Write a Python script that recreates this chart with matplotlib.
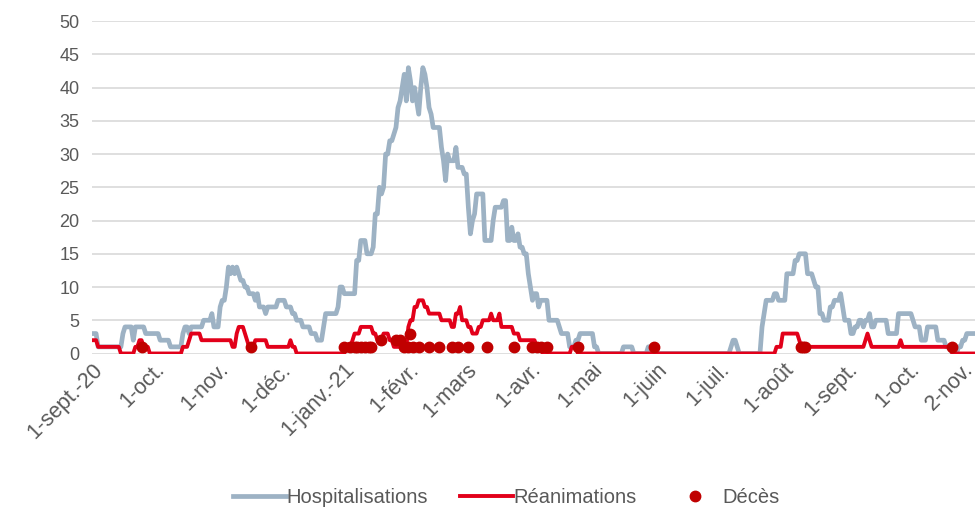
import matplotlib
matplotlib.use('Agg')
import matplotlib.pyplot as plt
import matplotlib.transforms as mtransforms
import numpy as np
import pandas as pd

# daily series, stored as runs of (value, number of days), starting 1 Sept 2020
hosp_runs = [
    (3, 3), (1, 12), (3, 1), (4, 4), (2, 1), (4, 5), (3, 7), (2, 5), (1, 6),
    (3, 1), (4, 2), (3, 1), (4, 6), (5, 4), (6, 1), (4, 3), (7, 1), (8, 2),
    (10, 1), (13, 1), (12, 1), (13, 1), (12, 1), (13, 1), (12, 1), (11, 2),
    (10, 2), (9, 3), (8, 1), (9, 1), (7, 3), (6, 1), (7, 5), (8, 4), (7, 3),
    (6, 2), (5, 3), (4, 4), (3, 3), (2, 3), (4, 1), (6, 6), (7, 1), (10, 2),
    (9, 6), (14, 2), (17, 3), (15, 3), (16, 1), (21, 2), (25, 1), (24, 1),
    (25, 1), (30, 2), (32, 2), (33, 1), (34, 1), (37, 1), (38, 1), (40, 1),
    (42, 1), (38, 1), (43, 1), (41, 1), (38, 1), (40, 1), (38, 1), (36, 1),
    (40, 1), (43, 1), (42, 1), (40, 1), (37, 1), (36, 1), (34, 4), (31, 1),
    (29, 1), (26, 1), (30, 1), (29, 3), (31, 1), (28, 3), (27, 2), (22, 1),
    (18, 1), (20, 1), (21, 1), (24, 4), (17, 4), (20, 1), (22, 4), (23, 2),
    (17, 2), (19, 1), (17, 2), (18, 1), (16, 2), (15, 2), (12, 1), (10, 1),
    (8, 1), (9, 2), (7, 1), (8, 4), (5, 5), (4, 1), (3, 4), (1, 3), (2, 2),
    (3, 7), (1, 2), (0, 12), (1, 5), (0, 7), (1, 2), (0, 38), (1, 1), (2, 2),
    (1, 1), (0, 11), (4, 1), (6, 1), (8, 4), (9, 2), (8, 4), (12, 4), (14, 2),
    (15, 4), (12, 3), (11, 1), (10, 2), (6, 2), (5, 3), (7, 2), (8, 3), (9, 1),
    (7, 1), (5, 3), (3, 2), (4, 2), (5, 2), (4, 1), (5, 2), (6, 1), (4, 2),
    (5, 6), (3, 5), (6, 7), (5, 1), (4, 3), (2, 3), (4, 5), (2, 4), (1, 3),
    (0, 3), (1, 2), (2, 2), (3, 5),
]

rea_runs = [
    (2, 3), (1, 11), (0, 7), (1, 2), (2, 2), (1, 3), (0, 16), (1, 3), (2, 1),
    (3, 5), (2, 15), (1, 2), (3, 1), (4, 3), (3, 1), (2, 1), (1, 3), (2, 6),
    (1, 11), (2, 1), (1, 2), (0, 24), (1, 3), (2, 1), (3, 3), (4, 6), (3, 2),
    (2, 3), (3, 3), (2, 2), (1, 7), (4, 1), (5, 2), (7, 2), (8, 3), (7, 2),
    (6, 6), (5, 5), (4, 2), (6, 2), (7, 1), (5, 3), (4, 2), (3, 3), (4, 2),
    (5, 4), (6, 1), (5, 3), (6, 1), (4, 6), (3, 3), (2, 8), (1, 3), (0, 14),
    (1, 3), (0, 96), (1, 3), (3, 8), (2, 1), (1, 31), (2, 1), (3, 1), (2, 1),
    (1, 14), (2, 1), (1, 24), (0, 12),
]

# deaths: day offset from 1 Sept 2020 and count
deces_days = [24, 77, 122, 125, 127, 128, 130, 132, 134, 135, 140, 147, 149,
              151, 153, 154, 155, 158, 163, 168, 174, 177, 182, 191, 204, 213,
              215, 217, 220, 235, 272, 343, 344, 345, 416]
deces_vals = [1, 1, 1, 1, 1, 1, 1, 1, 1, 1, 2, 2, 2,
              1, 1, 3, 1, 1, 1, 1, 1, 1, 1, 1, 1, 1,
              1, 1, 1, 1, 1, 1, 1, 1, 1]

tick_dates = ['2020-09-01', '2020-10-01', '2020-11-01', '2020-12-01',
              '2021-01-01', '2021-02-01', '2021-03-01', '2021-04-01',
              '2021-05-01', '2021-06-01', '2021-07-01', '2021-08-01',
              '2021-09-01', '2021-10-01', '2021-11-02']
tick_labels = ['1-sept.-20', '1-oct.', '1-nov.', '1-déc.', '1-janv.-21',
               '1-févr.', '1-mars', '1-avr.', '1-mai', '1-juin', '1-juil.',
               '1-août', '1-sept.', '1-oct.', '2-nov.']


def expand(runs):
    out = []
    for v, n in runs:
        out += [v] * n
    return np.array(out)


hosp = expand(hosp_runs)
rea = expand(rea_runs)
start = pd.Timestamp('2020-09-01')
dates_h = pd.date_range(start, periods=len(hosp))
dates_r = pd.date_range(start, periods=len(rea))
dates_d = start + pd.to_timedelta(deces_days, unit='D')

plt.rcParams['font.family'] = ['Liberation Sans', 'DejaVu Sans']
fig = plt.figure(figsize=(9.78, 5.09), dpi=100)
ax = fig.add_axes([0.094, 0.3055, 0.903, 0.653])

ax.plot(dates_h, hosp, color='#9db2c4', lw=3.4, label='Hospitalisations',
        solid_joinstyle='round', zorder=3)
ax.plot(dates_r, rea, color='#e2001a', lw=2.8, label='Réanimations',
        solid_joinstyle='round', zorder=4)
ax.plot(dates_d, deces_vals, 'o', color='#c00000', ms=7.5, label='Décès',
        linestyle='none', zorder=5)

ax.set_ylim(0, 50)
ax.set_yticks(range(0, 51, 5))
ax.set_xlim(start, pd.Timestamp('2021-11-02'))
ax.set_xticks(pd.to_datetime(tick_dates))
ax.set_xticklabels(tick_labels, rotation=45, ha='right', rotation_mode='anchor')
ax.tick_params(axis='both', length=0, colors='#595959')
ax.tick_params(axis='x', pad=4, labelsize=15.5)
ax.tick_params(axis='y', pad=9, labelsize=13)
ax.grid(axis='y', color='#d9d9d9', lw=1.2, zorder=0)
for s in ax.spines.values():
    s.set_visible(False)
ax.set_axisbelow(True)

# keep the last date label inside the picture
last = ax.get_xticklabels()[-1]
last.set_transform(last.get_transform() +
                   mtransforms.ScaledTranslation(-12 / 100, 0, fig.dpi_scale_trans))

fig.legend(loc='center', bbox_to_anchor=(0.518, 0.022), ncol=3,
           frameon=False, fontsize=14.5, handlelength=2.6, columnspacing=1.6,
           handletextpad=0.05, labelcolor='#595959')

fig.savefig('out.png', dpi=100)
